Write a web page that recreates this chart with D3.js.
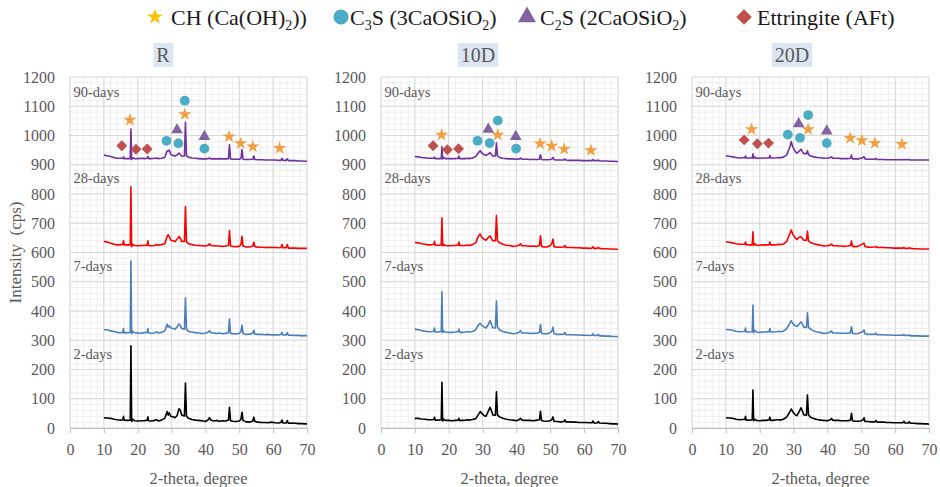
<!DOCTYPE html>
<html>
<head>
<meta charset="utf-8">
<script src="https://d3js.org/d3.v7.min.js"></script>
<style>
  body { margin: 0; background: #fff; }
  svg { font-family: 'Liberation Serif', 'Times New Roman', serif; }
  .tick text { fill: #595959; font-size: 16px; font-family: 'Liberation Serif', 'Times New Roman', serif; }
</style>
</head>
<body>
<script>
// shared 2-theta positions (degree) for every pattern
const TWO_THETA = [
  10, 11, 12, 13, 14, 15, 15.6, 15.8, 16.0, 17,
  17.8, 18.0, 18.2, 18.5, 19, 20, 21, 22, 22.8, 23.0,
  23.2, 24, 25, 25.6, 26, 27, 28, 28.7, 29.0, 29.3,
  29.8, 30.5, 31, 31.6, 32.2, 32.6, 33.0, 33.8, 34.1, 34.4,
  35, 36, 37, 38, 39, 40, 40.9, 41.2, 41.6, 42.5,
  43.3, 44, 45, 46, 46.8, 47.1, 47.4, 48, 49, 50,
  50.5, 50.8, 51.1, 52, 53, 54.0, 54.3, 54.6, 55.5, 56.5,
  57.5, 58.5, 59.5, 60.5, 61.5, 62.3, 62.6, 62.9, 63.8, 64.2,
  64.5, 65.5, 66.5, 67.5, 68.5, 69.5, 70
];

// ---- R ----
const R_2D = [
  35, 34, 33, 30, 28, 27, 28, 40, 27, 26,
  27, 281, 22, 30, 25, 24, 25, 25, 27, 38,
  25, 24, 26, 29, 24, 27, 33, 56, 44, 52,
  40, 38, 35, 42, 66, 60, 44, 41, 154, 40,
  33, 29, 27, 26, 25, 22, 29, 35, 27, 24,
  26, 23, 25, 24, 27, 71, 26, 23, 22, 24,
  30, 54, 26, 21, 20, 24, 37, 22, 20, 19,
  19, 18, 20, 18, 17, 19, 27, 17, 17, 25,
  16, 17, 16, 15, 15, 14, 14
];
const R_7D = [
  336, 336, 332, 330, 327, 326, 327, 340, 325, 326,
  327, 571, 322, 331, 326, 325, 324, 326, 327, 340,
  325, 324, 325, 329, 325, 327, 332, 355, 345, 349,
  342, 340, 338, 345, 356, 350, 340, 338, 445, 338,
  330, 328, 326, 325, 323, 324, 328, 333, 326, 325,
  323, 325, 322, 324, 326, 373, 324, 322, 322, 323,
  330, 352, 323, 320, 321, 324, 334, 321, 320, 320,
  319, 320, 318, 319, 318, 320, 327, 318, 318, 326,
  317, 317, 316, 317, 315, 316, 315
];
const R_28D = [
  638, 636, 632, 628, 626, 627, 627, 640, 626, 626,
  626, 825, 620, 628, 624, 623, 624, 624, 626, 640,
  624, 623, 624, 627, 625, 627, 630, 656, 660, 655,
  642, 640, 637, 645, 655, 648, 638, 638, 757, 636,
  630, 627, 625, 624, 623, 622, 626, 630, 624, 623,
  622, 622, 621, 622, 624, 675, 622, 621, 620, 621,
  628, 655, 622, 619, 619, 622, 635, 620, 618, 618,
  617, 617, 618, 617, 616, 617, 627, 616, 616, 627,
  615, 615, 615, 614, 614, 614, 614
];
const R_90D = [
  933, 931, 928, 925, 922, 922, 922, 927, 921, 921,
  921, 1022, 918, 924, 921, 921, 922, 921, 922, 928,
  921, 921, 922, 923, 921, 922, 925, 948, 947, 950,
  935, 932, 930, 933, 940, 935, 929, 930, 1045, 930,
  926, 923, 922, 921, 920, 920, 921, 923, 920, 921,
  920, 921, 920, 920, 921, 968, 920, 919, 919, 919,
  922, 952, 919, 918, 918, 919, 930, 918, 917, 917,
  916, 916, 916, 916, 915, 915, 922, 915, 915, 920,
  914, 914, 914, 913, 913, 912, 912
];

// ---- 10D ----
const D10_2D = [
  33, 33, 31, 30, 28, 28, 29, 37, 27, 27,
  28, 156, 24, 30, 26, 26, 25, 26, 27, 33,
  26, 26, 27, 28, 27, 29, 32, 45, 50, 56,
  50, 42, 40, 55, 71, 60, 45, 44, 124, 45,
  38, 33, 30, 28, 27, 25, 29, 33, 27, 26,
  26, 26, 25, 27, 28, 57, 26, 24, 23, 25,
  29, 38, 23, 22, 21, 22, 28, 21, 21, 20,
  20, 19, 19, 19, 18, 18, 24, 17, 17, 22,
  17, 16, 16, 15, 14, 14, 13
];
const D10_7D = [
  338, 336, 333, 331, 329, 330, 331, 342, 328, 328,
  330, 466, 326, 332, 328, 327, 327, 328, 330, 338,
  327, 327, 328, 330, 328, 330, 336, 352, 355, 358,
  350, 345, 342, 352, 367, 355, 343, 342, 434, 345,
  336, 330, 327, 325, 322, 324, 328, 333, 325, 325,
  325, 323, 324, 324, 327, 354, 324, 322, 322, 326,
  332, 344, 323, 320, 320, 321, 327, 319, 319, 319,
  318, 318, 317, 317, 316, 317, 322, 316, 316, 320,
  315, 315, 314, 314, 313, 313, 312
];
const D10_28D = [
  634, 633, 630, 628, 626, 627, 628, 638, 625, 625,
  626, 719, 623, 628, 624, 623, 624, 624, 626, 636,
  624, 624, 624, 626, 624, 627, 633, 655, 660, 663,
  652, 645, 642, 650, 657, 648, 640, 640, 726, 640,
  633, 628, 625, 624, 621, 622, 626, 630, 623, 623,
  622, 621, 622, 621, 624, 657, 621, 619, 619, 624,
  632, 646, 620, 618, 618, 619, 624, 617, 617, 617,
  616, 616, 615, 615, 614, 615, 620, 614, 614, 618,
  614, 613, 613, 612, 612, 611, 611
];
const D10_90D = [
  928, 927, 925, 924, 922, 922, 922, 926, 921, 921,
  921, 962, 920, 925, 921, 921, 921, 921, 922, 930,
  921, 921, 921, 922, 921, 923, 928, 940, 944, 948,
  940, 934, 932, 936, 941, 935, 930, 930, 975, 930,
  925, 922, 921, 920, 920, 919, 920, 923, 919, 919,
  919, 918, 918, 918, 919, 934, 918, 917, 917, 918,
  920, 925, 917, 916, 916, 916, 920, 916, 915, 915,
  915, 915, 914, 914, 914, 914, 918, 914, 914, 916,
  913, 913, 913, 912, 912, 911, 911
];

// ---- 20D ----
const D20_2D = [
  35, 34, 33, 30, 28, 29, 29, 40, 27, 27,
  28, 130, 25, 30, 26, 25, 26, 26, 28, 37,
  26, 26, 28, 28, 27, 30, 38, 52, 58, 65,
  55, 45, 42, 55, 69, 58, 45, 44, 113, 45,
  37, 32, 29, 27, 26, 25, 28, 33, 26, 26,
  26, 25, 25, 25, 27, 50, 25, 23, 23, 25,
  28, 35, 22, 22, 21, 21, 26, 20, 20, 20,
  19, 19, 18, 18, 18, 18, 23, 17, 17, 21,
  16, 16, 15, 15, 14, 14, 13
];
const D20_7D = [
  337, 336, 334, 331, 329, 330, 331, 342, 328, 328,
  329, 420, 326, 334, 328, 327, 328, 328, 330, 340,
  328, 328, 329, 331, 329, 331, 340, 355, 360, 367,
  357, 350, 347, 355, 363, 355, 345, 344, 394, 345,
  338, 332, 328, 326, 323, 325, 328, 332, 325, 325,
  325, 324, 324, 324, 326, 346, 324, 322, 323, 327,
  330, 335, 322, 320, 320, 321, 324, 319, 319, 319,
  318, 318, 317, 317, 317, 317, 320, 316, 316, 318,
  315, 315, 315, 314, 314, 314, 315
];
const D20_28D = [
  637, 635, 633, 630, 628, 628, 628, 636, 627, 626,
  626, 671, 625, 630, 625, 625, 626, 626, 627, 636,
  626, 626, 627, 628, 627, 629, 638, 660, 668, 677,
  662, 650, 645, 652, 654, 648, 642, 642, 673, 640,
  634, 630, 627, 625, 622, 623, 626, 629, 623, 623,
  622, 622, 621, 622, 624, 639, 621, 620, 621, 627,
  630, 632, 621, 618, 618, 619, 621, 617, 617, 617,
  616, 616, 615, 615, 615, 615, 617, 614, 614, 616,
  614, 613, 613, 612, 612, 612, 612
];
const D20_90D = [
  930, 929, 927, 925, 923, 924, 924, 930, 923, 923,
  923, 937, 922, 927, 922, 922, 923, 923, 924, 932,
  923, 923, 924, 925, 924, 926, 934, 955, 965, 979,
  960, 945, 940, 946, 953, 945, 938, 938, 948, 935,
  930, 927, 925, 924, 922, 923, 925, 927, 922, 922,
  922, 921, 921, 921, 922, 933, 920, 920, 920, 922,
  925, 928, 920, 919, 919, 919, 922, 918, 918, 918,
  917, 917, 917, 917, 917, 917, 918, 917, 917, 918,
  916, 916, 916, 916, 916, 916, 916
];

// phase markers [2-theta, intensity] on the 90-days pattern
const R_CH  = [[17.7, 1053], [33.9, 1072], [47.0, 996], [50.4, 973], [54.0, 962], [61.9, 957]];
const R_C3S = [[28.5, 982], [32.0, 973], [33.9, 1119], [39.7, 955]];
const R_C2S = [[31.6, 1019], [39.7, 996]];
const R_AFT = [[15.3, 965], [19.5, 953], [22.8, 954]];

const D10_CH  = [[17.9, 1002], [34.5, 1002], [47.0, 972], [50.4, 964], [54.1, 954], [62.0, 949]];
const D10_C3S = [[28.5, 982], [32.1, 974], [34.5, 1051], [39.9, 955]];
const D10_C2S = [[31.7, 1021], [39.8, 996]];
const D10_AFT = [[15.4, 965], [19.6, 951], [22.9, 955]];

const D20_CH  = [[17.6, 1021], [34.3, 1021], [46.7, 991], [50.2, 983], [54.0, 974], [62.0, 970]];
const D20_C3S = [[28.3, 1003], [31.9, 992], [34.3, 1070], [39.8, 974]];
const D20_C2S = [[31.5, 1040], [39.8, 1015]];
const D20_AFT = [[15.4, 985], [19.3, 972], [22.6, 974]];

const PANEL_NAMES = ['R', '10D', '20D'];
const AGE_LABELS = ['90-days', '28-days', '7-days', '2-days'];
const AGE_LABEL_Y = [1150, 856, 555, 252];

const PANEL_SERIES = [
  [R_90D, R_28D, R_7D, R_2D],
  [D10_90D, D10_28D, D10_7D, D10_2D],
  [D20_90D, D20_28D, D20_7D, D20_2D]
];
const PANEL_MARKERS = [
  { ch: R_CH, c3s: R_C3S, c2s: R_C2S, aft: R_AFT },
  { ch: D10_CH, c3s: D10_C3S, c2s: D10_C2S, aft: D10_AFT },
  { ch: D20_CH, c3s: D20_C3S, c2s: D20_C2S, aft: D20_AFT }
];

// styles
const LINE_COLORS = ['#7030a0', '#ff0000', '#4a7ebb', '#000000'];
const W = 940, H = 487;
const PLOT_LEFT = [70, 381, 692];
const PLOT_TOP = 77, PLOT_W = 237, PLOT_H = 351;
const TITLE_X = [163, 478, 792];

const diamond = {
  draw(ctx, size) {
    const r = Math.sqrt(size / 2);
    ctx.moveTo(0, -r); ctx.lineTo(r, 0); ctx.lineTo(0, r); ctx.lineTo(-r, 0); ctx.closePath();
  }
};
const PHASES = [
  { key: 'ch',  label: ['CH (Ca(OH)', '2', '))'], type: d3.symbolStar,     size: 55, color: '#f0a040', legendColor: '#ffc000', legendSize: 80 },
  { key: 'c3s', label: ['C', '3', 'S (3CaOSiO', '2', ')'], type: d3.symbolCircle, size: 75, color: '#4bacc6', legendColor: '#4bacc6', legendSize: 180 },
  { key: 'c2s', label: ['C', '2', 'S (2CaOSiO', '2', ')'], type: d3.symbolTriangle, size: 60, color: '#8064a2', legendColor: '#8064a2', legendSize: 140 },
  { key: 'aft', label: ['Ettringite (AFt)'], type: diamond, size: 60, color: '#c0504d', legendColor: '#c0504d', legendSize: 120 }
];
const LEGEND_X = [155, 341, 527, 744];
const LEGEND_TEXT_X = [171, 350, 540, 757];

const svg = d3.select('body').append('svg')
  .attr('width', W)
  .attr('height', H);

// legend
const legend = svg.append('g').attr('class', 'legend');
PHASES.forEach((p, i) => {
  legend.append('path')
    .attr('transform', 'translate(' + LEGEND_X[i] + ',17)')
    .attr('d', d3.symbol().type(p.type).size(p.legendSize)())
    .attr('fill', p.legendColor);
  const t = legend.append('text')
    .attr('x', LEGEND_TEXT_X[i])
    .attr('y', 25)
    .attr('font-size', 22)
    .attr('fill', '#1a1a1a');
  p.label.forEach((s, k) => {
    const isSub = k % 2 === 1;
    t.append('tspan')
      .attr('font-size', isSub ? 14 : 22)
      .attr('dy', isSub ? 5 : (k > 0 ? -5 : 0))
      .text(s);
  });
});

PANEL_NAMES.forEach((name, pi) => {
  const x = d3.scaleLinear().domain([0, 70]).range([0, PLOT_W]);
  const y = d3.scaleLinear().domain([0, 1200]).range([PLOT_H, 0]);

  const g = svg.append('g')
    .attr('class', 'panel')
    .attr('transform', 'translate(' + PLOT_LEFT[pi] + ',' + PLOT_TOP + ')');

  // grid
  const grid = g.append('g').attr('class', 'grid');
  grid.selectAll('.minor-x').data(x.ticks(35)).enter().append('line')
    .attr('x1', d => x(d)).attr('x2', d => x(d))
    .attr('y1', 0).attr('y2', PLOT_H)
    .attr('stroke', '#eeeeee').attr('stroke-width', 1);
  grid.selectAll('.minor-y').data(y.ticks(60)).enter().append('line')
    .attr('y1', d => y(d)).attr('y2', d => y(d))
    .attr('x1', 0).attr('x2', PLOT_W)
    .attr('stroke', '#eeeeee').attr('stroke-width', 1);
  grid.selectAll('.major-x').data(x.ticks(7)).enter().append('line')
    .attr('x1', d => x(d)).attr('x2', d => x(d))
    .attr('y1', 0).attr('y2', PLOT_H)
    .attr('stroke', '#d9d9d9').attr('stroke-width', 1);
  grid.selectAll('.major-y').data(y.ticks(12)).enter().append('line')
    .attr('y1', d => y(d)).attr('y2', d => y(d))
    .attr('x1', 0).attr('x2', PLOT_W)
    .attr('stroke', '#d9d9d9').attr('stroke-width', 1);

  // axes
  const xAxis = g.append('g')
    .attr('class', 'x axis')
    .attr('transform', 'translate(0,' + PLOT_H + ')')
    .call(d3.axisBottom(x).ticks(7).tickSize(5).tickPadding(11));
  xAxis.select('.domain').attr('stroke', '#bfbfbf');
  xAxis.selectAll('.tick line').attr('stroke', '#bfbfbf');

  const yAxis = g.append('g')
    .attr('class', 'y axis')
    .call(d3.axisLeft(y).ticks(12).tickFormat(d3.format('d')).tickSize(0).tickPadding(15));
  yAxis.select('.domain').remove();

  // patterns
  const line = d3.line()
    .x(d => x(d[0]))
    .y(d => y(d[1]));

  g.append('g').attr('class', 'line-container')
    .selectAll('.line')
    .data(PANEL_SERIES[pi])
    .enter()
    .append('path')
    .attr('class', 'line')
    .attr('fill', 'none')
    .attr('stroke', (d, i) => LINE_COLORS[i])
    .attr('stroke-width', 1.6)
    .attr('stroke-linejoin', 'round')
    .attr('d', s => line(TWO_THETA.map((t, k) => [t, s[k]])));

  // age labels
  g.selectAll('.age-label')
    .data(AGE_LABELS)
    .enter()
    .append('text')
    .attr('class', 'age-label')
    .attr('x', x(1))
    .attr('y', (d, i) => y(AGE_LABEL_Y[i]))
    .attr('dy', '0.35em')
    .attr('font-size', 14.5)
    .attr('fill', '#595959')
    .text(d => d);

  // phase markers
  PHASES.forEach(p => {
    g.selectAll('.m-' + p.key)
      .data(PANEL_MARKERS[pi][p.key])
      .enter()
      .append('path')
      .attr('class', 'm-' + p.key)
      .attr('transform', d => 'translate(' + x(d[0]) + ',' + y(d[1]) + ')')
      .attr('d', d3.symbol().type(p.type).size(p.size)())
      .attr('fill', p.color);
  });

  // x axis title
  svg.append('text')
    .attr('x', PLOT_LEFT[pi] + PLOT_W / 2 + 10)
    .attr('y', 484)
    .attr('text-anchor', 'middle')
    .attr('font-size', 16.5)
    .attr('fill', '#595959')
    .text('2-theta, degree');

  // panel title with shaded box
  const title = svg.append('g').attr('class', 'panel-title');
  const tt = title.append('text')
    .attr('x', TITLE_X[pi])
    .attr('y', 62)
    .attr('text-anchor', 'middle')
    .attr('font-size', 20)
    .attr('fill', '#595959')
    .text(name);
  const bb = tt.node().getBBox();
  title.insert('rect', 'text')
    .attr('x', bb.x - 3)
    .attr('y', 43)
    .attr('width', bb.width + 6)
    .attr('height', 24)
    .attr('fill', '#dce6f2');
});

// y axis title
svg.append('text')
  .attr('transform', 'translate(21,' + (PLOT_TOP + PLOT_H / 2) + ') rotate(-90)')
  .attr('text-anchor', 'middle')
  .attr('font-size', 17)
  .attr('fill', '#595959')
  .attr('xml:space', 'preserve')
  .style('white-space', 'pre')
  .text('Intensity  (cps)');
</script>
</body>
</html>
